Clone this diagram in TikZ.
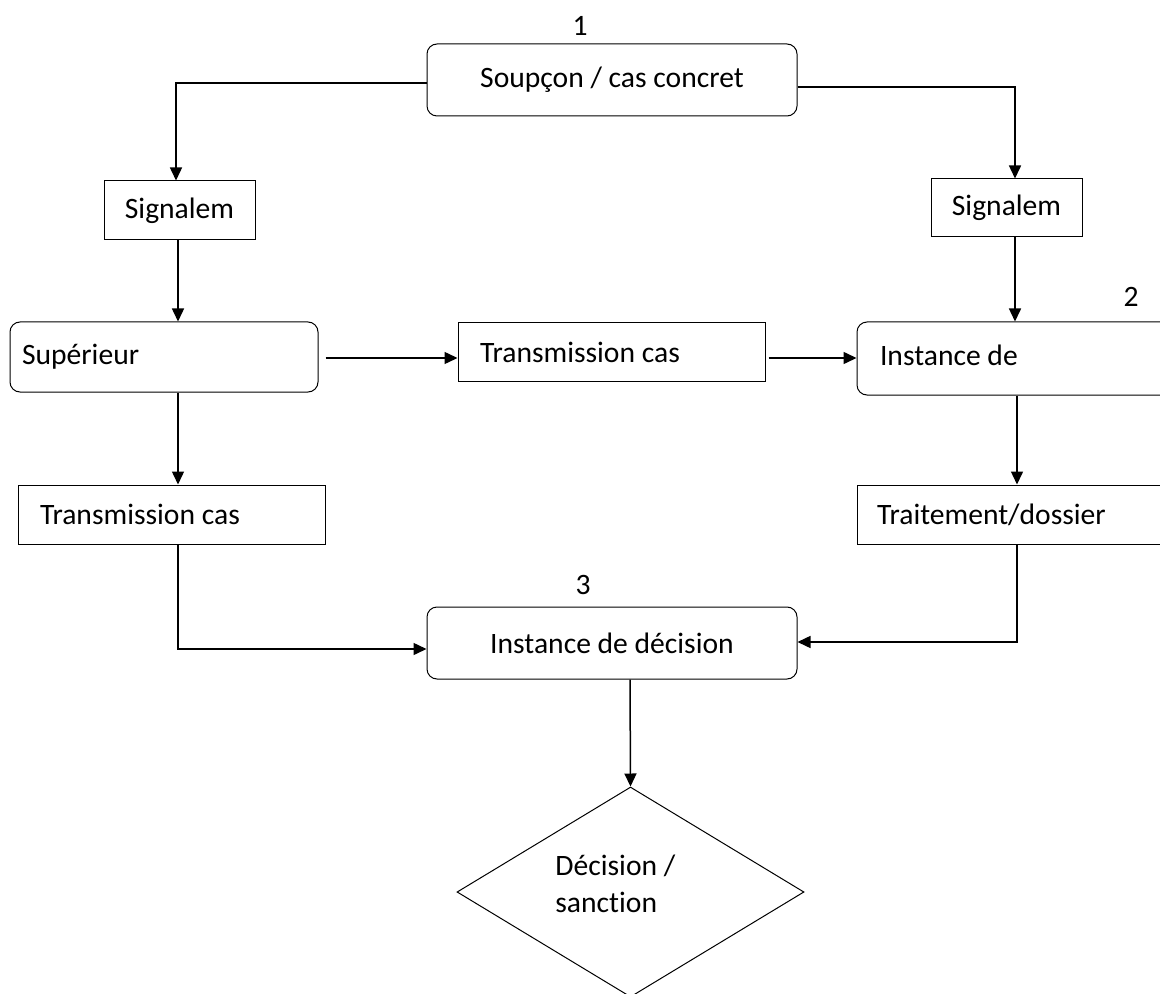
\documentclass[tikz,border=0pt]{standalone}
\usepackage{fontspec}
\setmainfont{Carlito}[Ligatures=NoCommon]
\usetikzlibrary{arrows.meta,shapes.geometric,calc}
\begin{document}
\begin{tikzpicture}[x=0.5pt,y=-0.5pt,
  font=\fontsize{14.8}{18.5}\selectfont,
  rbox/.style={draw, rounded corners=5pt, line width=0.5pt, inner sep=0pt},
  sbox/.style={draw, line width=0.5pt, inner sep=0pt},
  conn/.style={line width=0.75pt, -{Triangle[length=6.5pt,width=6pt]}},
  num/.style={inner sep=0pt}]
\useasboundingbox (0,0) rectangle (1160,994);
% nodes
\node[num] (n1) at (580,26) {1};
\node[num] (n2) at (1131,297) {2};
\node[num] (n3) at (583,585) {3};
\node[rbox, minimum width=185pt, minimum height=36pt] (box1) at (612,80) {Soupçon / cas concret};
\node[sbox, minimum width=75.5pt, minimum height=29.5pt] (sigL) at (179.5,210.5) {\raisebox{-1pt}{Signalem}};
\node[sbox, minimum width=75.5pt, minimum height=29pt] (sigR) at (1006.5,208) {\raisebox{-1pt}{Signalem}};
\node[rbox, minimum height=35pt, inner xsep=6pt, text width=142pt, align=flush left] (sup) at (164,357) {Supérieur};
\node[sbox, minimum height=29pt, inner xsep=11pt, text width=131.5pt, align=flush left] (transM) at (611.5,352) {Transmission cas};
\node[rbox, minimum height=36.5pt, inner xsep=11.5pt, text width=138.5pt, align=flush left] (instD) at (1018.5,358.5) {\raisebox{3pt}{Instance de}};
\node[sbox, minimum height=29.5pt, inner xsep=10pt, text width=141.5pt, align=flush left] (trait) at (1018.5,514.5) {Traitement/dossier};
\node[sbox, minimum height=29.5pt, inner xsep=11pt, text width=131.5pt, align=flush left] (transL) at (171.5,514.5) {Transmission cas};
\node[rbox, minimum width=185pt, minimum height=36pt] (decbox) at (612,643) {Instance de décision};
\node[draw, diamond, line width=0.5pt, inner sep=0pt, minimum width=173.5pt, minimum height=105pt] (dia) at (630.5,892) {};
\node[align=left, inner sep=0pt, anchor=base west] (diatext) at (555,912) {Décision /\\sanction};
% coordinates
\coordinate (l1) at (176,83);
\coordinate (l2) at (178,649);
\coordinate (r1) at (1015,87);
\coordinate (r2) at (1017,642);
\coordinate (m1) at (0,358);
\coordinate (b1) at (630,0);
% connectors
\draw[conn] (box1.west |- l1) -- (l1) -- (l1 |- sigL.north);
\draw[conn] (box1.east |- r1) -- (r1) -- (r1 |- sigR.north);
\draw[conn] (r1 |- sigR.south) -- (r1 |- instD.north);
\draw[conn] (r2 |- instD.south) -- (r2 |- trait.north);
\draw[conn] (r2 |- trait.south) -- (r2) -- (decbox.east |- r2);
\draw[conn] (l2 |- sigL.south) -- (l2 |- sup.north);
\draw[conn] (l2 |- sup.south) -- (l2 |- transL.north);
\draw[conn] (l2 |- transL.south) -- (l2) -- (decbox.west |- l2);
\draw[conn] ($(sup.east |- m1)+(7,0)$) -- (transM.west |- m1);
\draw[conn] ($(transM.east |- m1)+(3,0)$) -- (instD.west |- m1);
\draw[conn] (decbox.south -| b1) -- (dia.north);
\end{tikzpicture}
\end{document}
